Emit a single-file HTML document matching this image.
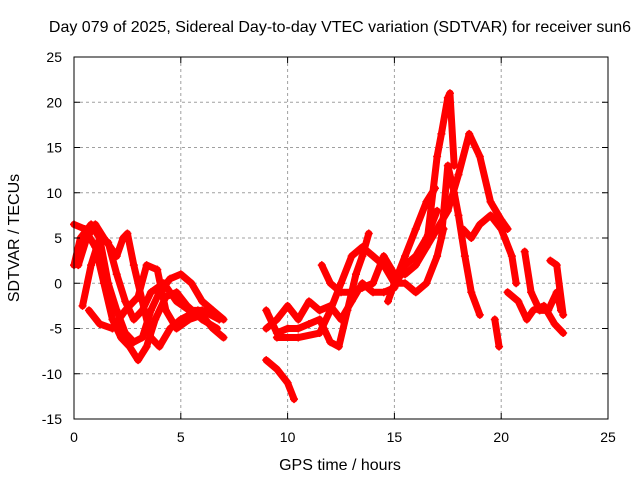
<!DOCTYPE html>
<html><head><meta charset="utf-8"><style>
body{margin:0;background:#fff}
svg text{font-family:"Liberation Sans",sans-serif;font-size:14px;fill:#000}
svg text.big{font-size:16px}
</style></head><body>
<svg id="c" width="640" height="480">
<g id="grid"></g><g id="series"></g><g id="axes"></g>
</svg>
<script>
const xTicks=[0,5,10,15,20,25];
const yTicks=[-15,-10,-5,0,5,10,15,20,25];
const trackA=[[0,2],[0.3,5],[0.8,6.5],[1.2,5],[1.6,0],[2,-3],[2.4,-5.5],[2.8,-6.5],[3.2,-6],[3.6,-3],[4,-1],[4.5,0.5],[5,1],[5.5,0],[6,-2],[6.5,-3],[7,-4]];
const trackB=[[0,6.5],[0.5,6],[1,4],[1.4,0],[1.8,-4],[2.2,-6],[2.6,-7],[3,-8.5],[3.4,-7],[3.8,-4],[4.3,-1.5],[4.8,-1],[5.3,-2.5],[6,-4],[6.7,-5]];
const trackC=[[0.4,-2.5],[0.8,2],[1.2,5],[1.6,4.5],[2,1],[2.4,-2],[2.8,-4],[3.2,-3],[3.6,-1],[4.2,0],[4.8,-2],[5.4,-3],[6,-3],[6.8,-4]];
const trackD=[[0.7,-3],[1.2,-4.5],[1.8,-5],[2.4,-3],[3,-1.5],[3.4,2],[3.9,1.5],[4.3,-3],[4.8,-5],[5.4,-4],[6,-3.5]];
const trackE=[[0.2,2],[0.6,5],[1,6.5],[1.4,5],[2,3],[2.3,5],[2.5,5.5],[2.8,2],[3.2,-2],[3.6,-6],[4,-7],[4.5,-5],[5,-4],[5.8,-3],[6.5,-5],[7,-6]];
const trackF=[[9,-8.5],[9.5,-9.5],[10,-11],[10.3,-12.8]];
const trackG=[[9,-5],[9.5,-4],[10,-2.5],[10.5,-4],[11,-2],[11.5,-3],[12,-2.5],[12.5,-4],[13,-2],[13.5,0],[14,-1],[14.5,-1],[15,-0.5],[15.5,2],[16,3],[16.5,5],[17,8]];
const trackH=[[9,-3],[9.5,-5.5],[10,-5],[10.5,-5],[11,-4.5],[11.5,-4],[12,-6.5],[12.4,-7],[12.8,-3],[13.2,1],[13.5,3],[13.8,5.5]];
const trackI=[[11.6,2],[12,0],[12.5,-1],[13,-1],[13.5,-0.5],[14,0],[14.5,3],[15,1],[15.5,1],[16,2],[16.5,4],[17,6],[17.5,8],[18,12],[18.5,16.5],[19,14],[19.5,9],[20,7],[20.3,6]];
const trackJ=[[9.5,-6],[10.5,-6],[11.5,-5.5],[12,-3],[12.5,0],[13,3],[13.5,4],[14,3],[14.5,2],[15,0],[15.5,0],[16,-1],[16.5,0],[17,3],[17.3,6]];
const trackK=[[14.7,-2],[15,0],[15.5,3],[16,6],[16.5,9],[16.9,10.5]];
const trackPeak=[[16.5,4],[17,14],[17.2,16.5],[17.5,20.5],[17.6,21],[17.8,13]];
const trackL=[[17.2,5],[17.5,13],[17.8,10],[18,7.5],[18.3,3],[18.6,-1],[19,-3.5]];
const trackM=[[18.2,6],[18.6,5],[19,6.5],[19.5,7.5],[20,6],[20.5,3],[20.7,0]];
const trackN=[[19.7,-4],[19.9,-7]];
const trackO=[[20.3,-1],[20.8,-2],[21.2,-4],[21.5,-3],[22,-2.5],[22.5,-4.5],[22.9,-5.5]];
const trackP=[[21.1,3.5],[21.4,-1],[21.8,-3],[22.2,-3],[22.6,-1],[22.8,-3]];
const trackQ=[[22.3,2.5],[22.6,2],[22.9,-3.5]];
const tracks=[trackA,trackB,trackC,trackD,trackE,trackF,trackG,trackH,trackI,trackJ,trackK,trackPeak,trackL,trackM,trackN,trackO,trackP,trackQ];

const X0=74,X1=608,Y0=419,Y1=57;
const xs=h=>X0+(h-0)/25*(X1-X0);
const ys=v=>Y0-(v+15)/40*(Y0-Y1);
const NS="http://www.w3.org/2000/svg";
function mk(tag,attrs,parent){const e=document.createElementNS(NS,tag);for(const k in attrs)e.setAttribute(k,attrs[k]);parent.appendChild(e);return e;}
const svg=document.getElementById('c'),grid=document.getElementById('grid'),ser=document.getElementById('series'),ax=document.getElementById('axes');

const title=mk('text',{x:340,y:32,'text-anchor':'middle','class':'big'},ax);
title.textContent='Day 079 of 2025, Sidereal Day-to-day VTEC variation (SDTVAR) for receiver sun6';


const xl=mk('text',{x:340,y:470,'text-anchor':'middle','class':'big'},ax);
xl.textContent='GPS time / hours';


const yl=mk('text',{x:19,y:238,'text-anchor':'middle','class':'big',transform:'rotate(-90 19 238)'},ax);
yl.textContent='SDTVAR / TECUs';



xTicks.forEach(t=>{const x=xs(t);
 if(t>0&&t<25){const g=mk('line',{x1:x,x2:x,y1:Y1,y2:Y0,stroke:'#a0a0a0','stroke-dasharray':'3,3'},grid);}
 mk('line',{x1:x,x2:x,y1:Y0,y2:Y0-6,stroke:'#000'},ax);mk('line',{x1:x,x2:x,y1:Y1,y2:Y1+6,stroke:'#000'},ax);
 const l=mk('text',{x:x,y:Y0+23,'text-anchor':'middle'},ax);l.textContent=t;
 
 });
yTicks.forEach(t=>{const y=ys(t);
 if(t>-15&&t<25){const g=mk('line',{x1:X0,x2:X1,y1:y,y2:y,stroke:'#a0a0a0','stroke-dasharray':'3,3'},grid);}
 mk('line',{x1:X0,x2:X0+6,y1:y,y2:y,stroke:'#000'},ax);mk('line',{x1:X1,x2:X1-6,y1:y,y2:y,stroke:'#000'},ax);
 const l=mk('text',{x:X0-12,y:y+5,'text-anchor':'end'},ax);l.textContent=t;
 
 });
const fr=mk('rect',{x:X0,y:Y1,width:X1-X0,height:Y0-Y1,fill:'none',stroke:'#000'},ax);



tracks.forEach(tr=>{
 const pl=mk('polyline',{points:tr.map(p=>xs(p[0])+','+ys(p[1])).join(' '),fill:'none',stroke:'#f00','stroke-width':7,'stroke-linejoin':'round','stroke-linecap':'round'},ser);
 
 
 tr.forEach(p=>{const x=xs(p[0]),y=ys(p[1]);
  const m=mk('path',{d:`M${x-4},${y}H${x+4}M${x},${y-4}V${y+4}`,stroke:'#f00','stroke-width':1.5},ser);
  
  });
});
</script>
</body></html>
